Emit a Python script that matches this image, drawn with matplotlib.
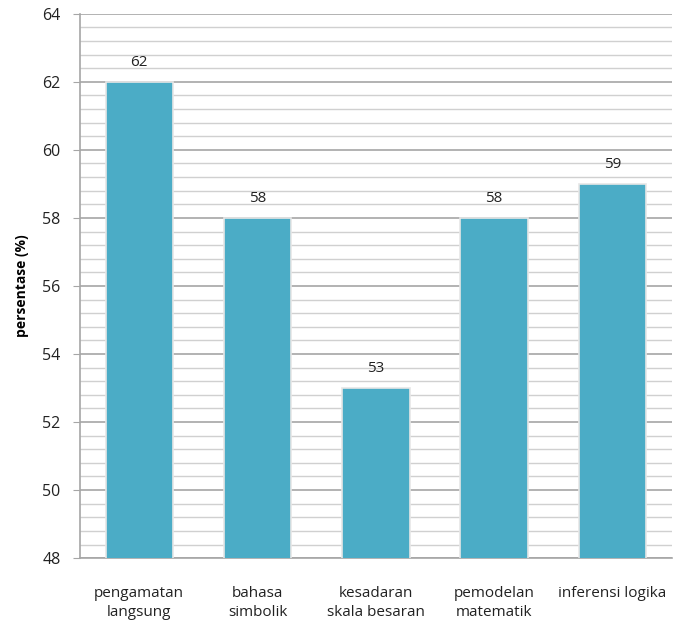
import matplotlib
matplotlib.use("Agg")
import matplotlib.pyplot as plt
from matplotlib.ticker import MultipleLocator

categories = ["pengamatan\nlangsung", "bahasa\nsimbolik", "kesadaran\nskala besaran",
              "pemodelan\nmatematik", "inferensi logika"]
values = [62, 58, 53, 58, 59]

plt.rcParams['font.family'] = ['Open Sans', 'DejaVu Sans']

fig = plt.figure(figsize=(6.73, 6.25), dpi=100)
ax = fig.add_axes([0.119, 0.107, 0.879, 0.871])

x = list(range(len(categories)))
bars = ax.bar(x, values, width=0.57, color="#4BACC6", edgecolor="#e6e6e6", linewidth=1.2, zorder=3)
for xi, v in zip(x, values):
    ax.text(xi, v + 0.35, f"{v}", ha="center", va="bottom", fontsize=11, color="#222222", zorder=4)

ax.set_ylim(48, 64)
ax.set_xlim(-0.5, len(categories) - 0.5)
ax.yaxis.set_major_locator(MultipleLocator(2))
ax.yaxis.set_minor_locator(MultipleLocator(0.4))
ax.grid(which="major", axis="y", color="#a6a6a6", linewidth=1.2, zorder=0)
ax.grid(which="minor", axis="y", color="#d0d0d0", linewidth=1.0, zorder=0)
ax.set_xticks(x)
ax.set_xticklabels(categories, fontsize=11, color="#222222", linespacing=1.4)
ax.tick_params(axis="x", length=0, pad=20)
ax.tick_params(axis="y", which="major", length=5, color="#a6a6a6", labelsize=11.5, pad=9, labelcolor="#222222")
ax.tick_params(axis="y", which="minor", length=0)
for s in ["top", "right"]:
    ax.spines[s].set_visible(False)
ax.spines["left"].set_color("#a6a6a6")
ax.spines["bottom"].set_color("#a6a6a6")
ax.spines["left"].set_linewidth(1.2)
ax.spines["bottom"].set_linewidth(1.2)
ax.set_ylabel("persentase (%)", fontsize=10, fontweight="bold", labelpad=10)

fig.savefig("out.png", dpi=100)
